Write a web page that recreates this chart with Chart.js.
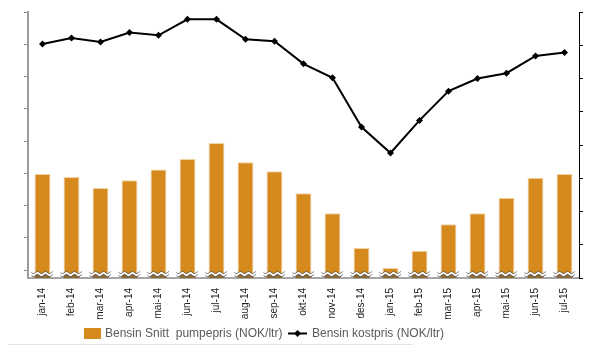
<!DOCTYPE html>
<html>
<head>
<meta charset="utf-8">
<script src="https://cdn.jsdelivr.net/npm/chart.js@4.4.1/dist/chart.umd.min.js"></script>
<style>
  html, body { margin: 0; padding: 0; background: #ffffff; }
  #wrap { position: relative; width: 596px; height: 355px; }
</style>
</head>
<body>
<div id="wrap"><canvas id="c" width="596" height="355"></canvas></div>
<script>
// ---- Data ----
const categories = ["jan-14","feb-14","mar-14","apr-14","mai-14","jun-14","jul-14","aug-14","sep-14","okt-14","nov-14","des-14","jan-15","feb-15","mar-15","apr-15","mai-15","jun-15","jul-15"];
const pumpepris = [14.49,14.44,14.27,14.39,14.56,14.72,14.97,14.67,14.53,14.19,13.88,13.34,13.03,13.30,13.71,13.88,14.12,14.43,14.49];
const kostpris  = [6.52,6.61,6.55,6.69,6.65,6.89,6.89,6.59,6.56,6.22,6.01,5.27,4.88,5.37,5.81,6.00,6.08,6.34,6.39];
const leftTicks  = [13,13.5,14,14.5,15,15.5,16,16.5,17];
const seriesNames = ["Bensin Snitt  pumpepris (NOK/ltr)", "Bensin kostpris (NOK/ltr)"];

const BAR_COLOR = '#D68A1E';

// axis-break decoration at the base of each bar + legend + separator line
const decorPlugin = {
  id: 'decor',
  afterDatasetsDraw(chart) {
    const ctx = chart.ctx;
    const meta = chart.getDatasetMeta(0);
    const base = chart.chartArea.bottom;
    ctx.save();
    meta.data.forEach(el => {
      const w = el.width;
      const x0 = el.x - w / 2 - 3, x1 = el.x + w / 2 + 3;
      // darker foot of bar below the break
      ctx.fillStyle = '#8c6a36';
      ctx.fillRect(el.x - w / 2, base - 3.5, w, 3.5);
      const wave = (x, off) => base - 5.2 + off + 1.1 * Math.sin((x - x0) / 8 * 2 * Math.PI);
      // white band
      ctx.beginPath();
      for (let x = x0; x <= x1; x += 0.5) ctx.lineTo(x, wave(x, 0));
      for (let x = x1; x >= x0; x -= 0.5) ctx.lineTo(x, wave(x, 2.4));
      ctx.closePath();
      ctx.fillStyle = '#ffffff';
      ctx.fill();
      // dark strokes
      ctx.lineWidth = 0.9;
      ctx.strokeStyle = '#555555';
      ctx.beginPath();
      for (let x = x0; x <= x1; x += 0.5) ctx.lineTo(x, wave(x, -0.3));
      ctx.stroke();
      ctx.beginPath();
      for (let x = x0; x <= x1; x += 0.5) ctx.lineTo(x, wave(x, 2.7));
      ctx.stroke();
    });
    ctx.restore();
  },
  afterDraw(chart) {
    const ctx = chart.ctx;
    ctx.save();
    // legend
    const ly = 333.5;
    ctx.fillStyle = BAR_COLOR;
    ctx.fillRect(84, 328, 17, 11);
    ctx.font = '12px "Liberation Sans", Arial, sans-serif';
    ctx.fillStyle = '#5a5a5a';
    ctx.textBaseline = 'middle';
    ctx.textAlign = 'left';
    ctx.fillText(seriesNames[0], 105, ly);
    ctx.strokeStyle = '#000';
    ctx.lineWidth = 2;
    ctx.beginPath(); ctx.moveTo(288, ly); ctx.lineTo(307, ly); ctx.stroke();
    ctx.fillStyle = '#000';
    ctx.beginPath();
    ctx.moveTo(297.5, ly - 3.5); ctx.lineTo(301, ly); ctx.lineTo(297.5, ly + 3.5); ctx.lineTo(294, ly);
    ctx.closePath(); ctx.fill();
    ctx.fillStyle = '#5a5a5a';
    ctx.fillText(seriesNames[1], 312, ly);
    // separator line
    ctx.strokeStyle = '#e4e4e4';
    ctx.lineWidth = 1;
    ctx.beginPath(); ctx.moveTo(8, 344.5); ctx.lineTo(413, 344.5); ctx.stroke();
    ctx.restore();
  }
};

new Chart(document.getElementById('c'), {
  data: {
    labels: categories,
    datasets: [
      {
        type: 'bar',
        label: seriesNames[0],
        data: pumpepris,
        yAxisID: 'yL',
        backgroundColor: BAR_COLOR,
        borderColor: '#F2D3A6',
        borderWidth: 1,
        barPercentage: 0.55,
        categoryPercentage: 1.0,
        order: 2
      },
      {
        type: 'line',
        label: seriesNames[1],
        data: kostpris,
        yAxisID: 'yR',
        borderColor: '#000000',
        backgroundColor: '#000000',
        borderWidth: 2,
        tension: 0,
        pointStyle: 'rectRot',
        pointRadius: 3.5,
        pointBackgroundColor: '#000000',
        pointBorderWidth: 0,
        order: 1
      }
    ]
  },
  options: {
    responsive: false,
    animation: false,
    devicePixelRatio: 1,
    layout: { padding: { top: 12, left: 0, right: 0, bottom: 0 } },
    plugins: { legend: { display: false }, tooltip: { enabled: false } },
    scales: {
      x: {
        grid: { display: false, drawTicks: false },
        border: { display: true, color: '#a6a6a6', width: 2 },
        ticks: {
          autoSkip: false, minRotation: 90, maxRotation: 90,
          padding: 10, color: '#1a1a1a',
          font: { family: '"Liberation Sans", Arial, sans-serif', size: 10 }
        },
        afterFit: s => { s.height = 77; }
      },
      yL: {
        position: 'left',
        min: 12.876, max: 17,
        afterBuildTicks: s => { s.ticks = leftTicks.map(v => ({ value: v })); },
        ticks: { display: false },
        grid: { display: true, drawOnChartArea: false, drawTicks: true, tickLength: 4, color: '#888888' },
        border: { display: true, color: '#9c9c9c', width: 2 },
        afterFit: s => { s.width = 28; }
      },
      yR: {
        position: 'right',
        min: 3, max: 7,
        ticks: { display: false, stepSize: 0.5 },
        grid: { display: true, drawOnChartArea: false, drawTicks: true, tickLength: 4, color: '#000000' },
        border: { display: true, color: '#000000', width: 1 },
        afterFit: s => { s.width = 17; }
      }
    }
  },
  plugins: [decorPlugin]
});
</script>
</body>
</html>
